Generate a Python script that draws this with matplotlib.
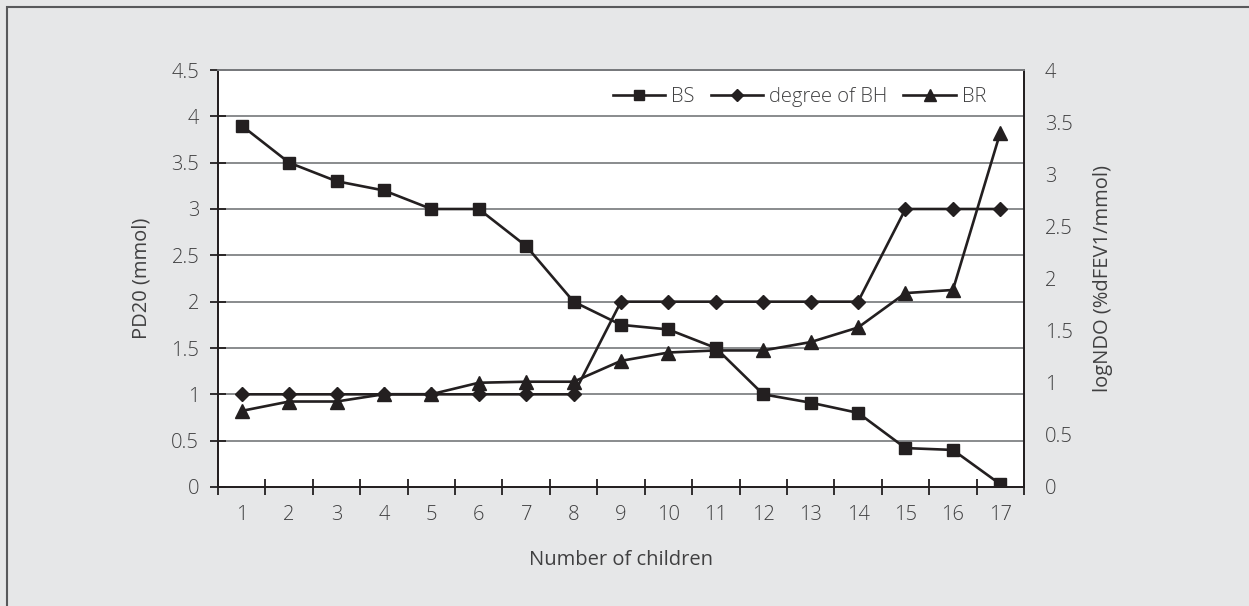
import matplotlib.pyplot as plt
from matplotlib.patches import Rectangle
from matplotlib.ticker import FixedLocator

plt.rcParams['font.family'] = ['Open Sans', 'DejaVu Sans']
plt.rcParams['font.weight'] = 'light'

# données
children = list(range(1, 18))
bs = [3.9, 3.5, 3.3, 3.2, 3.0, 3.0, 2.6, 2.0, 1.75, 1.7, 1.5, 1.0, 0.91, 0.8, 0.42, 0.4, 0.03]
degree_bh = [1, 1, 1, 1, 1, 1, 1, 1, 2, 2, 2, 2, 2, 2, 3, 3, 3]
br = [0.73, 0.82, 0.82, 0.89, 0.89, 1.0, 1.01, 1.01, 1.21, 1.29, 1.31, 1.31, 1.39, 1.53, 1.86, 1.89, 3.4]
left_ticks = [0, 0.5, 1, 1.5, 2, 2.5, 3, 3.5, 4, 4.5]
right_ticks = [0, 0.5, 1, 1.5, 2, 2.5, 3, 3.5, 4]

W, H = 1249, 606
bg = '#e6e7e8'
ink = '#231f20'
txt = '#404041'
fs = 14.5

fig = plt.figure(figsize=(W / 100, H / 100), dpi=100, facecolor=bg)
# cadre autour de la figure
fig.patches.append(Rectangle((7 / W, -0.1), 1.2, 1 - 7 / H + 0.1, transform=fig.transFigure,
                             fill=False, edgecolor='#58595b', linewidth=1.5))

ax = fig.add_axes([218 / W, 1 - 487 / H, (1024 - 218) / W, (487 - 70) / H])
ax.set_facecolor('white')
ax2 = ax.twinx()

# grille sur l'axe de gauche
for v in left_ticks[1:]:
    ax.axhline(v, color='#808285', linewidth=1.3, zorder=0)

l1, = ax.plot(children, bs, color=ink, lw=1.9, marker='s', ms=8.5, label='BS')
l2, = ax.plot(children, degree_bh, color=ink, lw=1.9, marker='D', ms=7.5, label='degree of BH')
l3, = ax2.plot(children, br, color=ink, lw=1.9, marker='^', ms=10, label='BR')

ax.set_xlim(0.5, 17.5)
ax.set_ylim(0, 4.5)
ax2.set_ylim(0, 4)

ax.set_xticks(children)
ax.set_xticklabels([str(c) for c in children], fontsize=fs, color=txt)
ax.xaxis.set_minor_locator(FixedLocator([c + 0.5 for c in range(0, 18)]))
ax.tick_params(axis='x', which='major', length=0, pad=13)
ax.tick_params(axis='x', which='minor', direction='inout', length=12, width=1.3, color=ink)

ax.set_yticks(left_ticks)
ax.set_yticklabels(['0', '0.5', '1', '1.5', '2', '2.5', '3', '3.5', '4', '4.5'], fontsize=fs, color=txt)
ax.tick_params(axis='y', direction='inout', length=11, width=1.3, color=ink, pad=8)

ax2.set_yticks(right_ticks)
ax2.set_yticklabels(['0', '0.5', '1', '1.5', '2', '2.5', '3', '3.5', '4'], fontsize=fs, color=txt)
ax2.tick_params(axis='y', length=0, pad=15)

for a in (ax, ax2):
    for s in a.spines.values():
        s.set_color(ink)
        s.set_linewidth(1.3)
ax2.spines['top'].set_color('#808285')

ax.set_xlabel('Number of children', fontsize=fs, color=txt)
ax.xaxis.set_label_coords(0.5, -(560 - 487) / (487 - 70), transform=ax.transAxes)
ax.xaxis.label.set_va('center')
ax.set_ylabel('PD20 (mmol)', fontsize=fs, color=txt)
ax.yaxis.set_label_coords(-(218 - 141) / (1024 - 218), 0.5)
ax.yaxis.label.set_va('center')
ax2.set_ylabel('logNDO (%dFEV1/mmol)', fontsize=fs, color=txt)
ax2.yaxis.set_label_coords(1 + (1103 - 1024) / (1024 - 218), 0.5)
ax2.yaxis.label.set_va('center')

ax2.legend(handles=[l1, l2, l3], loc='center right', ncol=3, frameon=False, fontsize=fs,
           bbox_to_anchor=(0.953, 1 - (97 - 70) / (487 - 70)), handlelength=2.6,
           columnspacing=0.8, handletextpad=0.3, labelcolor=txt, markerscale=0.85,
           borderpad=0, borderaxespad=0)

fig.savefig('out.png', dpi=100, facecolor=bg)
